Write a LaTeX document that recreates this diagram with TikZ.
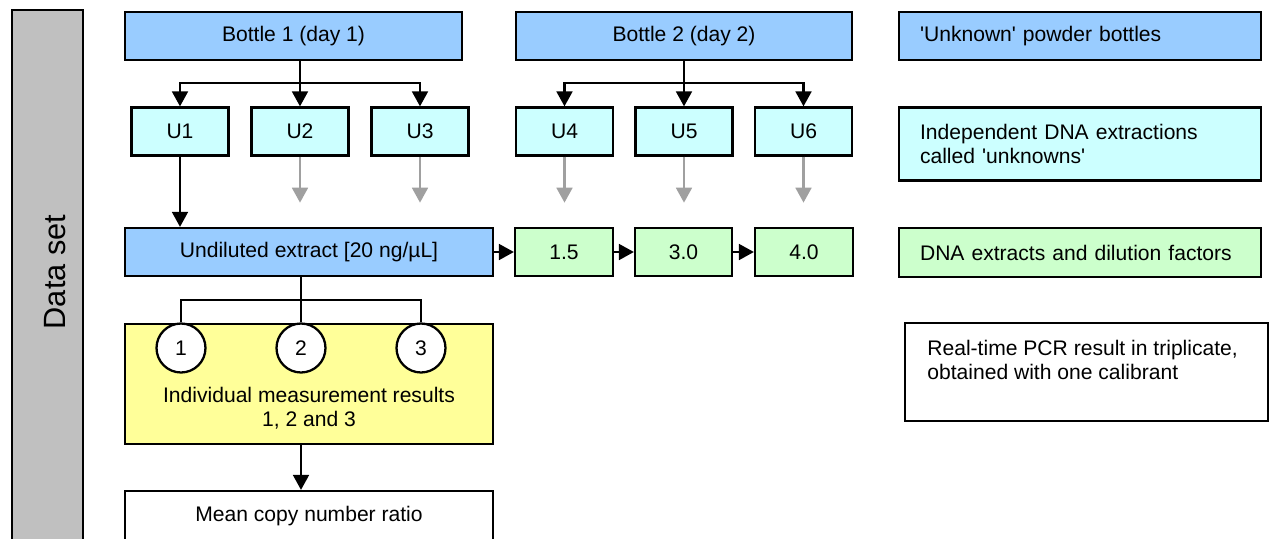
\documentclass[tikz,border=0pt]{standalone}
\usepackage{fontspec}
\setmainfont{Liberation Sans}
\usetikzlibrary{positioning, arrows.meta}

\definecolor{bottleblue}{HTML}{99CCFF}
\definecolor{extractcyan}{HTML}{CCFFFF}
\definecolor{dilgreen}{HTML}{CCFFCC}
\definecolor{measyellow}{HTML}{FFFF99}
\definecolor{bargrey}{HTML}{C0C0C0}
\definecolor{arrowgrey}{HTML}{A0A0A0}

\begin{document}
\begin{tikzpicture}[x=0.02cm, y=-0.02cm, font=\fontsize{12}{13.4}\selectfont]

\tikzstyle{box} = [draw, line width=1.3pt, inner sep=0pt, minimum height=0.96cm, align=center];
\tikzstyle{ubox} = [box, fill=extractcyan, minimum width=1.94cm];
\tikzstyle{dbox} = [box, fill=dilgreen, minimum width=1.96cm];
\tikzstyle{legend} = [box, text width=6.40cm, inner xsep=0.42cm, align=left];
\tikzstyle{meascircle} = [circle, draw, line width=1.3pt, fill=white, minimum size=0.98cm, inner sep=0pt];
\tikzstyle{line} = [line width=1.3pt];
\tikzstyle{arrow} = [line width=1.3pt, -{Triangle[width=9pt, length=8.5pt]}];
\tikzstyle{greyarrow} = [arrow, draw=arrowgrey];

\useasboundingbox (0,0) rectangle (1271,538);

\node(bar) [draw, line width=1.3pt, fill=bargrey, minimum width=1.42cm, minimum height=10.8cm] at (47.5,280) {};
\node(dataset) [rotate=90, font=\fontsize{17.5}{20}\selectfont] at (55,272) {Data set};

\node(b1) [box, fill=bottleblue, minimum width=6.74cm] at (293.5,36) {Bottle 1 (day 1)};
\node(b2) [box, fill=bottleblue, minimum width=6.72cm] at (684,36) {Bottle 2 (day 2)};
\node(legbottle) [legend, fill=bottleblue] at (1080,36) {\textquotesingle Unknown\textquotesingle{} powder bottles};

\node(U1) [ubox] at (180,131.5) {U1};
\node(U2) [ubox] at (300,131.5) {U2};
\node(U3) [ubox] at (420,131.5) {U3};
\node(U4) [ubox] at (564.5,131.5) {U4};
\node(U5) [ubox] at (684,131.5) {U5};
\node(U6) [ubox] at (803.5,131.5) {U6};
\node(legextract) [legend, fill=extractcyan, minimum height=1.46cm] at (1080,144) {Independent DNA extractions\\called \textquotesingle unknowns\textquotesingle};

\node(undil) [box, fill=bottleblue, minimum width=7.36cm] at (309,252) {Undiluted extract [20 ng/µL]};
\node(d15) [dbox] at (564,252) {1.5};
\node(d30) [dbox, minimum width=1.94cm] at (683.5,252) {3.0};
\node(d40) [dbox] at (804,252) {4.0};
\node(legdil) [legend, fill=dilgreen, minimum height=0.98cm] at (1080,252.5) {DNA extracts and dilution factors};

\node(meas) [box, fill=measyellow, minimum width=7.36cm, minimum height=2.4cm] at (309,384) {};
\node(c1) [meascircle] at (181,348) {1};
\node(c2) [meascircle] at (301,348) {2};
\node(c3) [meascircle] at (421,348) {3};
\node(meastext) [align=center] at (309,408) {Individual measurement results\\1, 2 and 3};

\node(pcr) [box, minimum width=7.26cm, minimum height=1.96cm] at (1086.5,372) {};
\node(pcrtext) [anchor=west, align=left, inner sep=0pt] at (927,360) {Real-time PCR result in triplicate,\\obtained with one calibrant};

\node(mean) [box, minimum width=7.36cm, minimum height=1.0cm] at (309,516) {Mean copy number ratio};

\coordinate(j1) at (300,83);
\coordinate(j2) at (684,83);
\coordinate(j3) at (301,300);

\draw [arrow] (b1.south -| U2.north) -- (U2.north);
\draw [arrow] (j1) -| (U1.north);
\draw [arrow] (j1) -| (U3.north);

\draw [arrow] (b2.south -| U5.north) -- (U5.north);
\draw [arrow] (j2) -| (U4.north);
\draw [arrow] (j2) -| (U6.north);

\path (U2.south) ++(0,46) coordinate (g2);
\path (U3.south) ++(0,46) coordinate (g3);
\path (U4.south) ++(0,46) coordinate (g4);
\path (U5.south) ++(0,46) coordinate (g5);
\path (U6.south) ++(0,46) coordinate (g6);
\draw [greyarrow] (U2.south) -- (g2);
\draw [greyarrow] (U3.south) -- (g3);
\draw [greyarrow] (U4.south) -- (g4);
\draw [greyarrow] (U5.south) -- (g5);
\draw [greyarrow] (U6.south) -- (g6);

\draw [arrow] (U1.south) -- (U1.south |- undil.north);
\draw [arrow] (undil.east) -- (d15.west);
\draw [arrow] (d15.east) -- (d30.west);
\draw [arrow] (d30.east) -- (d40.west);

\draw [line] (undil.south -| c2.north) -- (c2.north);
\draw [line] (j3) -| (c1.north);
\draw [line] (j3) -| (c3.north);

\draw [arrow] (meas.south -| c2.south) -- (mean.north -| c2.south);

\end{tikzpicture}
\end{document}
